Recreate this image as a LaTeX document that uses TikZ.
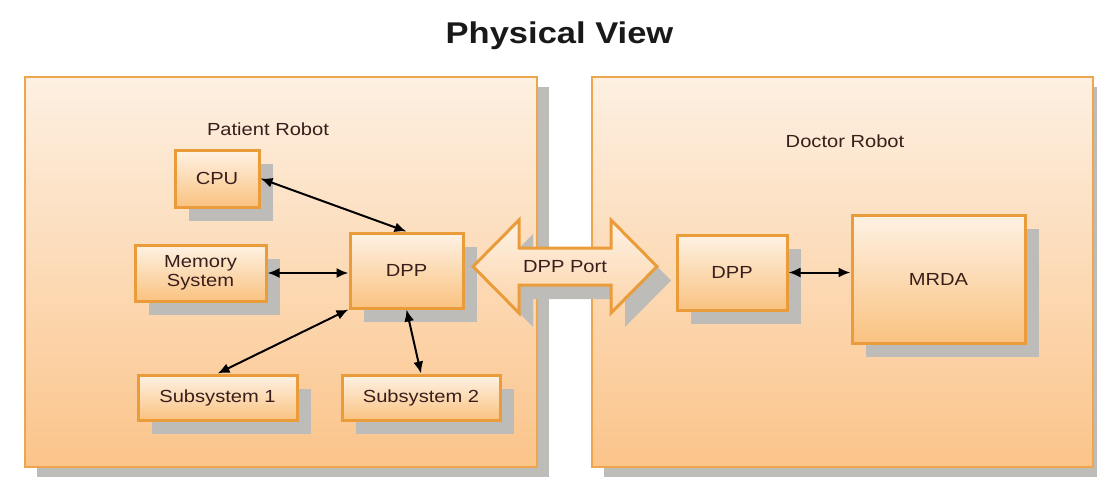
\documentclass[tikz,border=0pt]{standalone}
\usepackage{fontspec}
\usepackage{tikz}
\usetikzlibrary{positioning,shapes,arrows.meta,shadows,calc}
\newfontfamily\diagfont[FakeStretch=1.15]{Liberation Sans}
\newcommand{\bodyfont}{\diagfont\fontsize{17.5}{19.5}\selectfont}
\newcommand{\headfont}{\diagfont\bfseries\fontsize{30}{34}\selectfont}
\definecolor{bigtop}{RGB}{253,240,226}
\definecolor{bigbottom}{RGB}{251,196,138}
\definecolor{unittop}{RGB}{254,242,228}
\definecolor{unitbottom}{RGB}{250,194,128}
\definecolor{boxline}{RGB}{237,166,78}
\definecolor{unitline}{RGB}{234,156,58}
\definecolor{shadowgray}{RGB}{190,188,184}
\definecolor{ink}{RGB}{58,30,28}
\tikzstyle{robot}=[%
      rectangle, draw=boxline, line width=2.8pt, top color=bigtop, bottom color=bigbottom,
      drop shadow={shadow xshift=12pt, shadow yshift=-10pt, fill=shadowgray, opacity=1},
      inner sep=0pt
]
\tikzstyle{unit}=[%
      rectangle, draw=unitline, line width=3pt, top color=unittop, bottom color=unitbottom,
      drop shadow={shadow xshift=14pt, shadow yshift=-14pt, fill=shadowgray, opacity=1},
      text=ink, font=\bodyfont, align=center, inner sep=0pt
]
\tikzstyle{portshape}=[%
      -, draw=unitline, line width=3pt, line join=miter,
      top color=unittop, bottom color=bigbottom!75!white,
      drop shadow={shadow xshift=14pt, shadow yshift=-14pt, fill=shadowgray, opacity=1}
]
\tikzstyle{caption}=[text=ink, font=\bodyfont]

\begin{document}
\begin{tikzpicture}[x=1pt, y=-1pt,
    <->, {Latex[length=12pt,width=10pt]}-{Latex[length=12pt,width=10pt]},
    line width=2pt
  ]
    \useasboundingbox (0,0) rectangle (1097,477);

    \node[font=\headfont, text=black!90, anchor=base] (title) at (559.5,43) {Physical View};

    \node[robot, minimum width=512pt, minimum height=390pt] (patient) at (281,272)   {};
    \node[robot, minimum width=501pt, minimum height=390pt] (doctor)  at (842.5,272) {};
    \node[caption] (patientlbl) at (268,129) {Patient Robot};
    \node[caption] (doctorlbl)  at (845,141) {Doctor Robot};

    \node[unit, minimum width=84pt,  minimum height=57pt]  (cpu)  at (217,178.5)   {CPU};
    \node[unit, minimum width=131pt, minimum height=56pt]  (mem)  at (200.5,273)   {Memory\\System};
    \node[unit, minimum width=113pt, minimum height=75pt]  (dpp1) at (406.5,270.5) {DPP};
    \node[unit, minimum width=159pt, minimum height=45pt]  (sub1) at (217.5,397.5) {Subsystem 1};
    \node[unit, minimum width=158pt, minimum height=45pt]  (sub2) at (421,397.5)   {Subsystem 2};
    \node[unit, minimum width=110pt, minimum height=75pt]  (dpp2) at (732,272.5)   {DPP};
    \node[unit, minimum width=173pt, minimum height=128pt] (mrda) at (938.5,279)   {MRDA};

    % double headed port between the robots
    \coordinate (portc) at (565,266.5);
    \draw[portshape] ($(portc)+(-92,0)$) -- ($(portc)+(-46,-46.5)$) -- ($(portc)+(-46,-18.5)$)
          -- ($(portc)+(46,-18.5)$) -- ($(portc)+(46,-46.5)$) -- ($(portc)+(92,0)$)
          -- ($(portc)+(46,46.5)$) -- ($(portc)+(46,18.5)$) -- ($(portc)+(-46,18.5)$)
          -- ($(portc)+(-46,46.5)$) -- cycle;
    \node[caption] (port) at (portc) {DPP Port};

    \path (cpu.east)  edge (dpp1.north)
          (mem.east)  edge (mem.east -| dpp1.west)
          (sub1.north) edge (dpp1.south west)
          (sub2.north) edge (dpp1.south)
          (dpp2.east) edge (dpp2.east -| mrda.west)
    ;

  \end{tikzpicture}
\end{document}
